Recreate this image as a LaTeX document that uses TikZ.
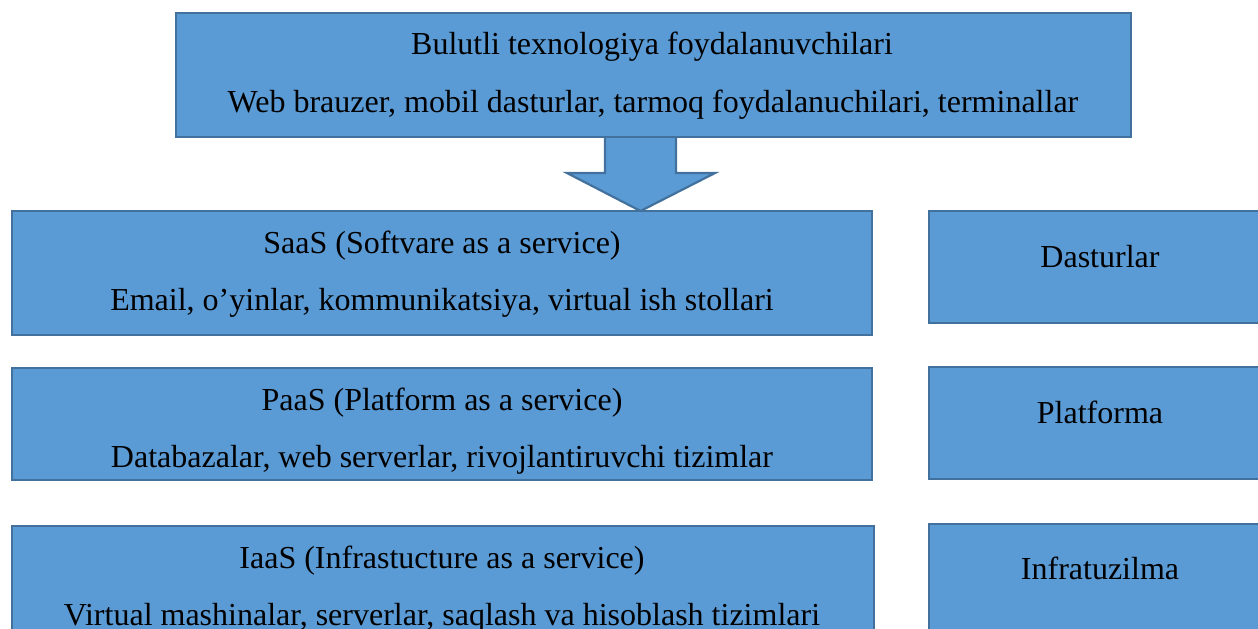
\documentclass[tikz,border=0pt]{standalone}
\usepackage{fontspec}
\setmainfont{Liberation Serif}
\usetikzlibrary{calc}
\definecolor{boxfill}{HTML}{5B9BD5}
\definecolor{boxline}{HTML}{41719C}
\begin{document}
\begin{tikzpicture}[x=1pt,y=-1pt,
  box/.style={draw=boxline, fill=boxfill, line width=2.2pt, rectangle,
    inner sep=0pt, outer sep=0pt, anchor=north west},
  lbl/.style={anchor=base, inner sep=0pt, text=black,
    font=\fontsize{32}{32}\selectfont},
  blockarrow/.style={draw=boxline, fill=boxfill, line width=2.2pt, line join=miter}]
\useasboundingbox (0,0) rectangle (1258,629);
\clip (0,0) rectangle (1258,629);

% block arrow from the users box down to the SaaS layer
\coordinate (arrtop) at (640.5,135);
\coordinate (arrtip) at (640.5,211);
\draw[blockarrow]
  ($(arrtop)+(-35.5,0)$) -- ($(arrtop)+(-35.5,38)$) -- ($(arrtop)+(-73.5,38)$)
  -- (arrtip) -- ($(arrtop)+(74.5,38)$) -- ($(arrtop)+(35.5,38)$)
  -- ($(arrtop)+(35.5,0)$) -- cycle;

% users
\node[box, minimum width=955pt, minimum height=124pt] (users) at (176,13) {};
\node[lbl] (usersA) at (652,54) {Bulutli texnologiya foydalanuvchilari};
\node[lbl] (usersB) at (653,112) {Web brauzer, mobil dasturlar, tarmoq foydalanuchilari, terminallar};

% service layers
\node[box, minimum width=860pt, minimum height=124pt] (saas) at (12,211) {};
\node[lbl] (saasA) at (442,253) {SaaS (Softvare as a service)};
\node[lbl] (saasB) at (442,310) {Email, o’yinlar, kommunikatsiya, virtual ish stollari};

\node[box, minimum width=860pt, minimum height=112pt] (paas) at (12,368) {};
\node[lbl] (paasA) at (442,410) {PaaS (Platform as a service)};
\node[lbl] (paasB) at (442,467) {Databazalar, web serverlar, rivojlantiruvchi tizimlar};

\node[box, minimum width=862pt, minimum height=124pt] (iaas) at (12,526) {};
\node[lbl] (iaasA) at (442,568) {IaaS (Infrastucture as a service)};
\node[lbl] (iaasB) at (442,625) {Virtual mashinalar, serverlar, saqlash va hisoblash tizimlari};

% layer names
\node[box, minimum width=342pt, minimum height=112pt] (apps) at (929,211) {};
\node[lbl] (appsT) at (1100,267) {Dasturlar};

\node[box, minimum width=342pt, minimum height=112pt] (plat) at (929,367) {};
\node[lbl] (platT) at (1100,423) {Platforma};

\node[box, minimum width=342pt, minimum height=124pt] (infra) at (929,524) {};
\node[lbl] (infraT) at (1100,579) {Infratuzilma};
\end{tikzpicture}
\end{document}
